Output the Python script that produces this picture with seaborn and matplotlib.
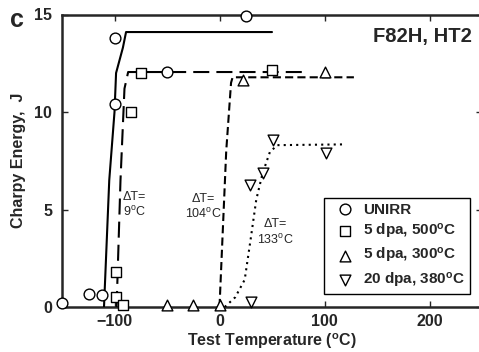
import matplotlib
matplotlib.use("Agg")
import matplotlib.pyplot as plt
import seaborn as sns

# Charpy test data for F82H, HT2
unirr_T = [-150, -124, -112, -100, -100, -50, 25]
unirr_E = [0.2, 0.67, 0.6, 10.4, 13.8, 12.07, 14.9]

d5_500_T = [-99, -99, -92, -84, -75, 50]
d5_500_E = [1.8, 0.5, 0.1, 10.0, 12.0, 12.15]

d5_300_T = [-50, -25, 0, 22, 100]
d5_300_E = [0.1, 0.1, 0.1, 11.65, 12.05]

d20_380_T = [30, 29, 41, 51, 101]
d20_380_E = [0.25, 6.25, 6.85, 8.55, 7.9]

# Transition fit curves (vertices)
unirr_fit_T = [-110, -105, -100, -98.5, -92, -89, 50]
unirr_fit_E = [0, 6.5, 10, 12, 13.3, 14.1, 14.1]

d5_500_fit_T = [-98, -94.3, -90.5, -87, 80]
d5_500_fit_E = [0, 6.5, 11.2, 12.05, 12.05]

d5_300_fit_T = [0, 6.4, 11, 12.5, 128]
d5_300_fit_E = [0, 8.0, 11.5, 11.78, 11.78]

d20_380_fit_T = [5, 15, 24, 30, 35, 41, 48, 55, 120]
d20_380_fit_E = [0, 0.5, 1.4, 3.6, 5.5, 6.85, 7.95, 8.3, 8.34]

labels = ["UNIRR", "5 dpa, 500$^o$C", "5 dpa, 300$^o$C", "20 dpa, 380$^o$C"]
shift_notes = ["\u0394T=\n9$^o$C", "\u0394T=\n104$^o$C", "\u0394T=\n133$^o$C"]

sns.set_style("ticks")
plt.rcParams["font.family"] = ["Liberation Sans", "DejaVu Sans"]
plt.rcParams["mathtext.fontset"] = "custom"
plt.rcParams["mathtext.default"] = "regular"

fig = plt.figure(figsize=(4.79, 3.52), dpi=100)
ax = fig.add_axes([62 / 479, 45 / 352, 420 / 479, 292.5 / 352])

lw = 1.5
sns.lineplot(x=unirr_fit_T, y=unirr_fit_E, sort=False, estimator=None, color="black",
             lw=lw, linestyle="-", ax=ax, zorder=3)
sns.lineplot(x=d5_500_fit_T, y=d5_500_fit_E, sort=False, estimator=None, color="black",
             lw=lw, linestyle=(0, (7.7, 3.4)), ax=ax, zorder=3)
sns.lineplot(x=d5_300_fit_T, y=d5_300_fit_E, sort=False, estimator=None, color="black",
             lw=lw, linestyle=(0, (3.9, 2.0)), ax=ax, zorder=3)
sns.lineplot(x=d20_380_fit_T, y=d20_380_fit_E, sort=False, estimator=None, color="black",
             lw=lw, linestyle=(0, (1, 2)), ax=ax, zorder=3)

sets = [(unirr_T, unirr_E, "o", 60), (d5_500_T, d5_500_E, "s", 52),
        (d5_300_T, d5_300_E, "^", 60), (d20_380_T, d20_380_E, "v", 60)]
for (tx, ey, mk, sz), lab in zip(sets, labels):
    sns.scatterplot(x=tx, y=ey, marker=mk, s=sz, color="white", edgecolor="black",
                    linewidth=1.0, ax=ax, zorder=6, clip_on=False, label=lab)

ax.set_xlim(-150, 250)
ax.set_ylim(0, 15)
ax.set_xticks([-100, 0, 100, 200])
ax.set_yticks([0, 5, 10, 15])
ax.tick_params(direction="in", length=4, width=1, top=True, right=True,
               labelsize=11.5, pad=5)
ax.tick_params(axis="y", pad=7)
for t in ax.get_xticklabels() + ax.get_yticklabels():
    t.set_fontweight("bold")
for s in ax.spines.values():
    s.set_linewidth(1.8)
    s.set_visible(True)

ax.set_xlabel("Test Temperature ($^o$C)", fontsize=11.5, fontweight="bold", labelpad=2)
ax.set_ylabel("Charpy Energy,  J", fontsize=11.5, fontweight="bold", labelpad=6)

ax.text(240, 13.6, "F82H, HT2", ha="right", va="baseline", fontsize=14.5, fontweight="bold")
fig.text(10 / 479, 1 - 27 / 352, "c", ha="left", va="baseline", fontsize=18, fontweight="bold")

ax.text(-81, 5.95, shift_notes[0], ha="center", va="top", fontsize=9, multialignment="center")
ax.text(-15.5, 5.85, shift_notes[1], ha="center", va="top", fontsize=9, multialignment="center")
ax.text(53, 4.55, shift_notes[2], ha="center", va="top", fontsize=9, multialignment="center")

leg = ax.legend(loc="lower right", bbox_to_anchor=(0.971, 0.044), borderaxespad=0,
                frameon=True, fancybox=False, shadow=False, scatterpoints=1,
                prop={"weight": "bold", "size": 11}, labelspacing=0.35,
                handletextpad=0.1, handlelength=2.2, borderpad=0.3)
leg.get_frame().set_edgecolor("black")
leg.get_frame().set_linewidth(1.0)
leg.get_frame().set_alpha(1)

fig.savefig("out.png", dpi=100)
